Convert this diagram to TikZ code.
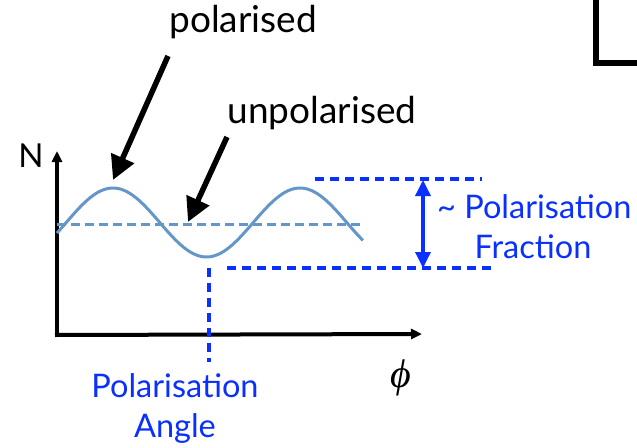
\documentclass[tikz,border=0pt]{standalone}
\usepackage{fontspec}
\setmainfont{Lato}
\newfontfamily\phifont{Liberation Serif}
\usetikzlibrary{arrows.meta}
\definecolor{wave}{HTML}{6496C8}
\definecolor{pblue}{HTML}{0A30FF}
\tikzset{
  lbl/.style={font=\fontsize{37}{40}\selectfont, inner sep=0pt},
  blbl/.style={font=\fontsize{32.5}{36}\selectfont, text=pblue, inner sep=0pt},
  bigarrow/.style={line width=5.5pt, -{Triangle[length=24pt,width=24pt]}},
  axis/.style={line width=4pt, -{Triangle[length=11pt,width=10pt]}},
  bdash/.style={pblue, line width=4pt, dash pattern=on 9pt off 6pt},
}
\begin{document}
\begin{tikzpicture}[x=1pt,y=-1pt]
\useasboundingbox (0,0) rectangle (637,447);
% L corner
\draw[line width=6pt] (596,0) -- (596,63) -- (640,63);
% axes
\coordinate (O) at (57,335);
\coordinate (ytop) at (57,151);
\coordinate (xend) at (422,334);
\draw[axis] (O) -- (ytop);
\draw[axis] ([xshift=-2pt]O) -- (xend);
\node[font=\fontsize{33}{36}\selectfont, inner sep=0pt] (N) at (31,156) {N};
\node[font=\phifont\itshape\fontsize{40}{42}\selectfont, inner sep=0pt] (phi) at (401,378) {ϕ};
% wave
\draw[wave, line width=3pt] plot[domain=57:363, samples=120] (\x, {222.5 - 34.5*cos((\x-113)/187*360)});
\coordinate (ul) at (57,224);
\coordinate (ur) at (363,224);
\draw[wave, line width=3pt, dash pattern=on 9pt off 5pt] (ul) -- (ur);
% labels + arrows
\node[lbl] (pol) at (243,22) {polarised};
\node[lbl] (unpol) at (322,113) {unpolarised};
\coordinate (pa1) at (168,56);
\coordinate (pa2) at (113,180);
\coordinate (ua1) at (227,137);
\coordinate (ua2) at (188,222);
\draw[bigarrow] (pa1) -- (pa2);
\draw[bigarrow] (ua1) -- (ua2);
% blue dashed
\coordinate (t1) at (315,179);
\coordinate (t2) at (482,179);
\coordinate (b1) at (227,268);
\coordinate (b2) at (495,268);
\coordinate (v1) at (209,268);
\coordinate (v2) at (209,362);
\draw[bdash] (t1) -- (t2);
\draw[bdash] (b1) -- (b2);
\draw[bdash] (v1) -- (v2);
\coordinate (da1) at (423,180);
\coordinate (da2) at (423,268);
\draw[pblue, line width=3.5pt, {Triangle[length=16pt,width=15pt]}-{Triangle[length=16pt,width=15pt]}] (da1) -- (da2);
\node[blbl, anchor=west] (pf1) at (437,207) {\textasciitilde\ Polarisation};
\node[blbl] (pf2) at (533,247) {Fraction};
\node[blbl] (pa) at (175,386) {Polarisation};
\node[blbl] (pang) at (175,428) {Angle};
\end{tikzpicture}
\end{document}
